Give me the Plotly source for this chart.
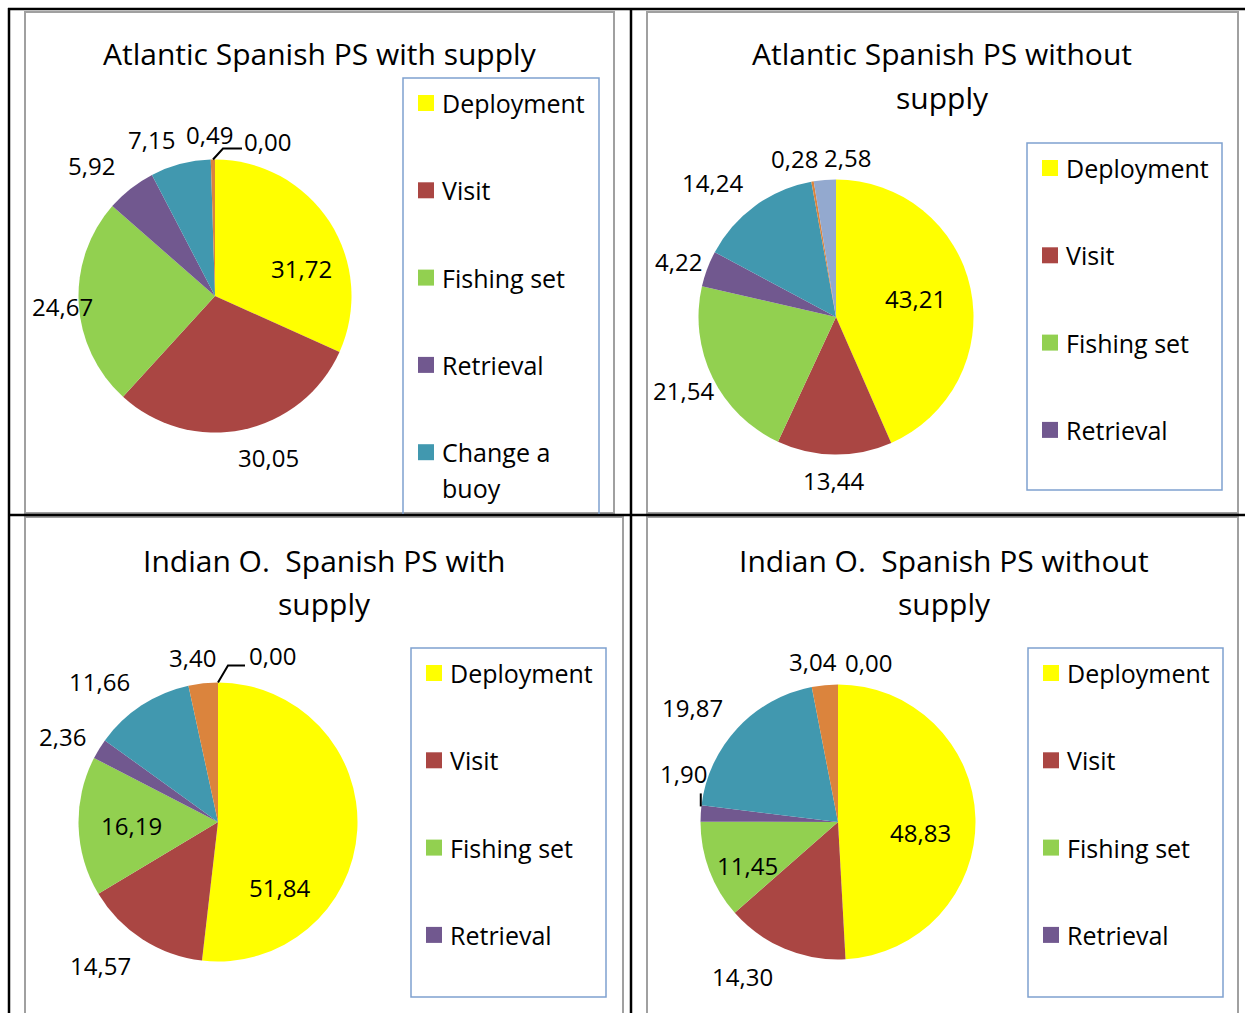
import math
import plotly.graph_objects as go

W, H = 1245, 1013

# ---------------- data ----------------
categories = ["Deployment", "Visit", "Fishing set", "Retrieval", "Change a buoy", "Supply", "Other"]
colors = ["#FFFF00", "#AA4643", "#92D050", "#71588F", "#4198AF", "#DB843D", "#93A9CF"]

titles = [["Atlantic Spanish PS with supply"],
          ["Atlantic Spanish PS without", "supply"],
          ["Indian O.\u00a0 Spanish PS with", "supply"],
          ["Indian O.\u00a0 Spanish PS without", "supply"]]

atl_with = [31.72, 30.05, 24.67, 5.92, 7.15, 0.49, 0.00]
atl_without = [43.21, 13.44, 21.54, 4.22, 14.24, 0.28, 2.58]
ind_with = [51.84, 14.57, 16.19, 2.36, 11.66, 3.40, 0.00]
ind_without = [48.83, 14.30, 11.45, 1.90, 19.87, 3.04, 0.00]
series = [atl_with, atl_without, ind_with, ind_without]

# ---------------- layout (pixels) ----------------
inside_idx = [[0], [0], [0, 2], [0, 2]]
pie_geo = [(215, 296, 136.5), (836, 317, 137.5), (218, 822, 139.5), (838, 822, 137.5)]
title_pos = [(320, [54]), (942, [54, 97]), (324, [560, 603]), (944, [560, 603])]
legend_box = [(403, 78, 599, 514, False), (1027, 143, 1222, 490, True),
              (411, 648, 606, 997, True), (1028, 648, 1223, 997, True)]
legend_first = [103, 168, 673, 673]
legend_count = [5, 4, 4, 4]
legend_step = 87.3
# small placement corrections of data labels (px), like Excel's "best fit"
label_nudge = [
    [(18, 17), (20, 1), (11, 1), (-22, -2), (-22, 2), (-3, 2), (52, 9)],
    [(-1, -2), (-1, -1), (-4, 1), (-3, 2), (-26, -1), (-13, 4), (25, 5)],
    [(-22, 61), (-27, 3), (-3, 1), (-13, 2), (-27, 0), (-8, 2), (54, 1)],
    [(0, 13), (-32, 2), (-13, 14), (10, -38), (-25, -2), (-9, 4), (30, 5)],
]
# leader lines: (panel, slice, offsets from slice edge point)
leaders = [(0, 6, [(-2, 0), (8, -11), (27, -11)]),
           (2, 6, [(0, 0), (10, -17), (27, -17)]),
           (3, 3, [(0, -7), (0, -20)])]

font = "Open Sans"


def px(x):
    return x / W


def py(y):
    return 1 - y / H


def mid_unit(vals, i):
    tot = sum(vals)
    a = (sum(vals[:i]) + vals[i] / 2) / tot * 2 * math.pi
    return math.sin(a), -math.cos(a)


fig = go.Figure()
shapes = []
annotations = []

for k, vals in enumerate(series):
    cx, cy, r = pie_geo[k]
    fig.add_trace(go.Pie(
        labels=categories, values=vals, sort=False, direction="clockwise", rotation=0,
        marker=dict(colors=colors, line=dict(width=0)),
        textinfo="none", hovertemplate="%{label}: %{value:.2f}<extra></extra>",
        domain=dict(x=[px(cx - r), px(cx + r)], y=[py(cy + r), py(cy - r)]),
        showlegend=False, name=" ".join(titles[k])))
    # data labels
    for i, v in enumerate(vals):
        ux, uy = mid_unit(vals, i)
        f = 0.6 if i in inside_idx[k] else 1.2
        dx, dy = label_nudge[k][i]
        lx, ly = cx + f * r * ux + dx, cy + f * r * uy + dy
        annotations.append(dict(text=f"{v:.2f}".replace(".", ","), x=px(lx), y=py(ly),
                                xref="paper", yref="paper", showarrow=False,
                                xanchor="center", yanchor="middle",
                                font=dict(family=font, size=24, color="#000000")))

for k, i, offs in leaders:
    cx, cy, r = pie_geo[k]
    ux, uy = mid_unit(series[k], i)
    ex, ey = cx + r * ux, cy + r * uy
    pts = [(ex + ox, ey + oy) for ox, oy in offs]
    path = "M " + " L ".join(f"{px(x)} {py(y)}" for x, y in pts)
    shapes.append(dict(type="path", xref="paper", yref="paper", path=path,
                       line=dict(color="#000000", width=2)))

# chart frames (grey)
frames = [(25, 12, 614, 513), (647, 12, 1238, 513), (25, 517, 623, 1030), (647, 517, 1238, 1030)]
for x0, y0, x1, y1 in frames:
    shapes.append(dict(type="rect", xref="paper", yref="paper", x0=px(x0), x1=px(x1), y0=py(y1), y1=py(y0),
                       line=dict(color="#A0A0A0", width=2)))

# table lines (black)
for (x0, y0, x1, y1) in [(8, 9, 1250, 9), (9, 8, 9, 1020), (8, 515, 1250, 515), (631, 8, 631, 1020)]:
    shapes.append(dict(type="line", xref="paper", yref="paper", x0=px(x0), x1=px(x1), y0=py(y0), y1=py(y1),
                       line=dict(color="#000000", width=2.5)))

# titles
for k, lines in enumerate(titles):
    tx, tys = title_pos[k]
    for line, ty in zip(lines, tys):
        annotations.append(dict(text=line, x=px(tx), y=py(ty), xref="paper", yref="paper", showarrow=False,
                                xanchor="center", yanchor="middle",
                                font=dict(family=font, size=30, color="#000000")))

# legends
for k in range(4):
    x0, y0, x1, y1, closed = legend_box[k]
    if closed:
        shapes.append(dict(type="rect", xref="paper", yref="paper", x0=px(x0), x1=px(x1), y0=py(y1), y1=py(y0),
                           line=dict(color="#7FA1D0", width=1.5)))
    else:
        path = f"M {px(x0)} {py(y1)} L {px(x0)} {py(y0)} L {px(x1)} {py(y0)} L {px(x1)} {py(y1)}"
        shapes.append(dict(type="path", xref="paper", yref="paper", path=path,
                           line=dict(color="#7FA1D0", width=1.5)))
    for i in range(legend_count[k]):
        iy = legend_first[k] + i * legend_step
        sx = x0 + 15
        shapes.append(dict(type="rect", xref="paper", yref="paper", x0=px(sx), x1=px(sx + 16),
                           y0=py(iy + 8), y1=py(iy - 8), fillcolor=colors[i], line=dict(width=0)))
        name = categories[i]
        parts = ["Change a", "buoy"] if name == "Change a buoy" else [name]
        for j, part in enumerate(parts):
            annotations.append(dict(text=part, x=px(sx + 22), y=py(iy + 36 * j), xref="paper", yref="paper",
                                    showarrow=False, xanchor="left", yanchor="middle",
                                    font=dict(family=font, size=25, color="#000000")))

fig.update_layout(width=W, height=H, margin=dict(l=0, r=0, t=0, b=0),
                  paper_bgcolor="#FFFFFF", plot_bgcolor="#FFFFFF",
                  separators=",.", shapes=shapes, annotations=annotations)

fig.write_html("out.html", config={"displayModeBar": False},
               post_script="document.body.style.margin='0';document.body.style.overflow='hidden';")
